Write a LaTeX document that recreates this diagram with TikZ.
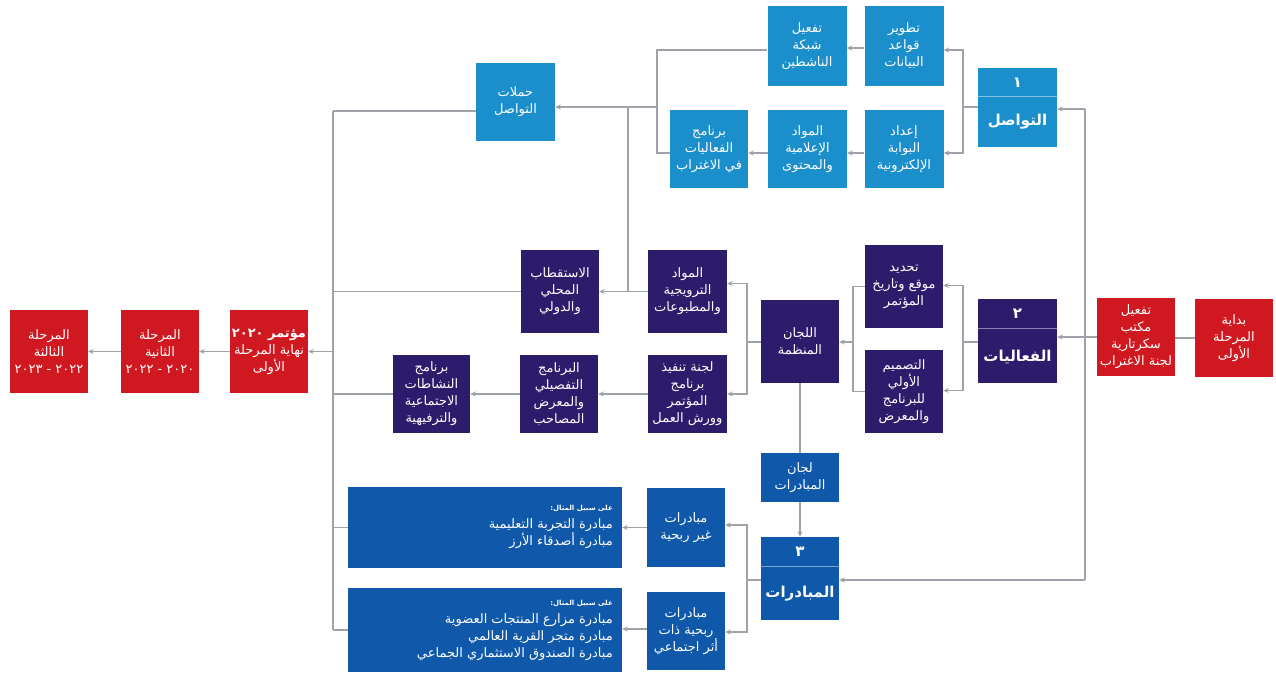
\documentclass[tikz,border=0pt]{standalone}
\usepackage{fontspec}
\usetikzlibrary{arrows.meta}
\TeXXeTstate=1
\newfontfamily\arabicfont[Script=Arabic]{DejaVu Sans}
\newcommand\artx[1]{\beginR #1\endR}
\definecolor{cyanbx}{RGB}{27,142,204}
\definecolor{navybx}{RGB}{45,27,108}
\definecolor{bluebx}{RGB}{15,88,170}
\definecolor{redbx}{RGB}{208,24,32}
\definecolor{linegray}{RGB}{160,162,170}
\tikzset{
  bx/.style={inner sep=1pt, align=center, text=white,
    font=\arabicfont\fontsize{13}{17}\selectfont,
    minimum width=79pt, minimum height=80pt},
  cy/.style={bx, fill=cyanbx},
  nv/.style={bx, fill=navybx},
  bl/.style={bx, fill=bluebx},
  rd/.style={bx, fill=redbx},
  numtxt/.style={inner sep=0pt, text=white, font=\arabicfont\bfseries\fontsize{15}{17}\selectfont},
  ttltxt/.style={inner sep=0pt, text=white, font=\arabicfont\bfseries\fontsize{15}{17}\selectfont},
  bigtxt/.style={inner sep=0pt, text=white, align=right, font=\arabicfont\fontsize{13}{17}\selectfont},
  smalltxt/.style={inner sep=0pt, text=white, font=\arabicfont\bfseries\fontsize{7}{9}\selectfont},
  divline/.style={draw=white, line width=1pt, draw opacity=0.45},
  ln/.style={draw=linegray, line width=1.5pt},
  arr/.style={ln, -{Stealth[length=5.5pt,width=5pt]}},
}
\begin{document}
\begin{tikzpicture}[x=1pt,y=-1pt]
\useasboundingbox (0,0) rectangle (1276,673);
\fill[white] (0,0) rectangle (1276,673);

% ---------- cyan group ----------
\node[cy] (tatwir) at (904,46) {\artx{تطوير}\\\artx{قواعد}\\\artx{البيانات}};
\node[cy] (tafeel) at (807,46) {\artx{تفعيل}\\\artx{شبكة}\\\artx{الناشطين}};
\node[cy, minimum height=78pt] (iedad) at (904,149) {\artx{إعداد}\\\artx{البوابة}\\\artx{الإلكترونية}};
\node[cy, minimum height=78pt] (mawad) at (807.5,149) {\artx{المواد}\\\artx{الإعلامية}\\\artx{والمحتوى}};
\node[cy, minimum height=78pt, minimum width=78pt] (barnamij) at (709,149) {\artx{برنامج}\\\artx{الفعاليات}\\\artx{في الاغتراب}};
\node[cy, minimum height=78pt] (hamalat) at (515.5,102) {\artx{حملات}\\\artx{التواصل}};
\node[cy, minimum height=79pt] (tawasul) at (1017.5,107.5) {};
\node[numtxt] (tawasulnum) at (1017.5,83) {\artx{١}};
\node[ttltxt] (tawasulttl) at (1017.5,122) {\artx{التواصل}};
\draw[divline] ([yshift=-29pt]tawasul.north west) -- ([yshift=-29pt]tawasul.north east);

% ---------- navy group ----------
\node[nv, minimum height=83pt] (mawad2) at (687.5,291.5) {\artx{المواد}\\\artx{الترويجية}\\\artx{والمطبوعات}};
\node[nv, minimum height=78pt] (lajna) at (687.5,394) {\artx{لجنة تنفيذ}\\\artx{برنامج}\\\artx{المؤتمر}\\\artx{وورش العمل}};
\node[nv, minimum height=83pt, minimum width=78pt] (istiqtab) at (560,291.5) {\artx{الاستقطاب}\\\artx{المحلي}\\\artx{والدولي}};
\node[nv, minimum height=78pt, minimum width=78pt] (tafsili) at (559,394) {\artx{البرنامج}\\\artx{التفصيلي}\\\artx{والمعرض}\\\artx{المصاحب}};
\node[nv, minimum height=78pt, minimum width=77pt] (nashatat) at (431.5,394) {\artx{برنامج}\\\artx{النشاطات}\\\artx{الاجتماعية}\\\artx{والترفيهية}};
\node[nv, minimum height=83pt, minimum width=78pt] (lijan) at (800,341.5) {\artx{اللجان}\\\artx{المنظمة}};
\node[nv, minimum height=83pt, minimum width=78pt] (tahdid) at (904,286.5) {\artx{تحديد}\\\artx{موقع وتاريخ}\\\artx{المؤتمر}};
\node[nv, minimum height=83pt, minimum width=78pt] (tasmim) at (904,391.5) {\artx{التصميم}\\\artx{الأولي}\\\artx{للبرنامج}\\\artx{والمعرض}};
\node[nv, minimum height=84pt] (faaliyat) at (1017.5,341) {};
\node[numtxt] (faaliyatnum) at (1017.5,314) {\artx{٢}};
\node[ttltxt] (faaliyatttl) at (1017.5,357) {\artx{الفعاليات}};
\draw[divline] ([yshift=-30pt]faaliyat.north west) -- ([yshift=-30pt]faaliyat.north east);

% ---------- blue group ----------
\node[bl, minimum height=49pt, minimum width=78pt] (lijanmub) at (800,477.5) {\artx{لجان}\\\artx{المبادرات}};
\node[bl, minimum height=83pt, minimum width=78pt] (mubadarat) at (800,578.5) {};
\node[numtxt] (mubadaratnum) at (800,552) {\artx{٣}};
\node[ttltxt] (mubadaratttl) at (800,594) {\artx{المبادرات}};
\draw[divline] ([yshift=-30pt]mubadarat.north west) -- ([yshift=-30pt]mubadarat.north east);
\node[bl, minimum height=79pt, minimum width=78pt] (ghayr) at (686,527.5) {\artx{مبادرات}\\\artx{غير ربحية}};
\node[bl, minimum height=78pt, minimum width=78pt] (ribhiya) at (686,631) {\artx{مبادرات}\\\artx{ربحية ذات}\\\artx{أثر اجتماعي}};
\node[bl, minimum height=81pt, minimum width=274pt] (big1) at (485,527.5) {};
\node[bl, minimum height=84pt, minimum width=274pt] (big2) at (485,630) {};
\node[smalltxt, anchor=east] (big1lbl) at (613,508) {\artx{على سبيل المثال:}};
\node[bigtxt, anchor=north east] (big1txt) at (613,518)
  {\artx{مبادرة التجربة التعليمية}\\\artx{مبادرة أصدقاء الأرز}};
\node[smalltxt, anchor=east] (big2lbl) at (613,603) {\artx{على سبيل المثال:}};
\node[bigtxt, anchor=north east] (big2txt) at (613,613)
  {\artx{مبادرة مزارع المنتجات العضوية}\\\artx{مبادرة متجر القرية العالمي}\\\artx{مبادرة الصندوق الاستثماري الجماعي}};

% ---------- red group ----------
\node[rd, minimum height=83pt, minimum width=78pt] (thalitha) at (49,351.5) {\artx{المرحلة}\\\artx{الثالثة}\\\artx{٢٠٢٢ - ٢٠٢٣}};
\node[rd, minimum height=83pt, minimum width=78pt] (thaniya) at (160,351.5) {\artx{المرحلة}\\\artx{الثانية}\\\artx{٢٠٢٠ - ٢٠٢٢}};
\node[rd, minimum height=83pt, minimum width=78pt] (muatamar) at (269,351.5) {{\bfseries\artx{مؤتمر ٢٠٢٠}}\\\artx{نهاية المرحلة}\\\artx{الأولى}};
\node[rd, minimum height=78pt, minimum width=78pt] (maktab) at (1136,337) {\artx{تفعيل}\\\artx{مكتب}\\\artx{سكرتارية}\\\artx{لجنة الاغتراب}};
\node[rd, minimum height=78pt, minimum width=78pt] (bidaya) at (1234,338) {\artx{بداية}\\\artx{المرحلة}\\\artx{الأولى}};

% ---------- bus coordinates ----------
\coordinate (c1) at (963,107);
\coordinate (c2) at (657,107);
\coordinate (c3) at (628,107);
\coordinate (c4) at (628,291.5);
\coordinate (c5) at (333,111);
\coordinate (c6) at (333,630);
\coordinate (c7) at (963,342);
\coordinate (c8) at (853,342);
\coordinate (c9) at (747,342);
\coordinate (c10) at (1085,109);
\coordinate (c11) at (1085,580);
\coordinate (c12) at (747,580);

% ---------- connectors: communication ----------
\draw[ln] (tawasul.west |- c1) -- (c1);
\draw[arr] (c1) |- ([yshift=-4pt]tatwir.east);
\draw[arr] (c1) |- ([yshift=-4pt]iedad.east);
\draw[arr] ([yshift=-2pt]tatwir.west) -- ([yshift=-2pt]tafeel.east);
\draw[arr] ([yshift=-4pt]iedad.west) -- ([yshift=-4pt]mawad.east);
\draw[arr] ([yshift=-4pt]mawad.west) -- ([yshift=-4pt]barnamij.east);
\draw[ln] ([yshift=-4pt]tafeel.west) -| (c2);
\draw[ln] ([yshift=-4pt]barnamij.west) -| (c2);
\draw[arr] (c2) -- (hamalat.east |- c2);
\draw[ln] (c3) -- (c4);
\draw[ln] ([yshift=-9pt]hamalat.west) -- (c5);
\draw[ln] (c5) -- (c6);

% ---------- connectors: events ----------
\draw[ln] (faaliyat.west |- c7) -- (c7);
\draw[arr] (c7) |- ([yshift=1pt]tahdid.east);
\draw[arr] (c7) |- ([yshift=1pt]tasmim.east);
\draw[ln] (tahdid.west) -| (c8);
\draw[ln] (tasmim.west) -| (c8);
\draw[arr] (c8) -- (lijan.east |- c8);
\draw[ln] (lijan.west |- c9) -- (c9);
\draw[arr] (c9) |- ([yshift=8pt]mawad2.east);
\draw[arr] (c9) |- (lajna.east);
\draw[arr] (mawad2.west) -- (istiqtab.east);
\draw[ln] (istiqtab.west) -- (istiqtab.west -| c5);
\draw[arr] (lajna.west) -- (tafsili.east);
\draw[arr] (tafsili.west) -- (nashatat.east);
\draw[ln] (nashatat.west) -- (nashatat.west -| c5);

% ---------- connectors: initiatives ----------
\draw[ln] (lijan.south) -- (lijanmub.north);
\draw[arr] (lijanmub.south) -- (mubadarat.north);
\draw[ln] (mubadarat.west |- c12) -- (c12);
\draw[arr] (c12) |- ([yshift=2.5pt]ghayr.east);
\draw[arr] (c12) |- ([yshift=-1pt]ribhiya.east);
\draw[arr] (ghayr.west) -- (big1.east |- ghayr.west);
\draw[arr] ([yshift=2pt]ribhiya.west) -- ([yshift=2pt]big2.east |- ribhiya.west);
\draw[ln] (big1.west) -- (big1.west -| c5);
\draw[ln] (big2.west) -- (c6);

% ---------- connectors: phases ----------
\draw[ln] (bidaya.west) -- (bidaya.west -| maktab.east);
\draw[arr] (maktab.west) -- (maktab.west -| faaliyat.east);
\draw[ln] (c10) -- (c11);
\draw[arr] (c10) -- (tawasul.east |- c10);
\draw[arr] (c11) -- (mubadarat.east |- c11);
\draw[arr] (muatamar.east -| c5) -- (muatamar.east);
\draw[arr] (muatamar.west) -- (thaniya.east);
\draw[arr] (thaniya.west) -- (thalitha.east);
\end{tikzpicture}
\end{document}
